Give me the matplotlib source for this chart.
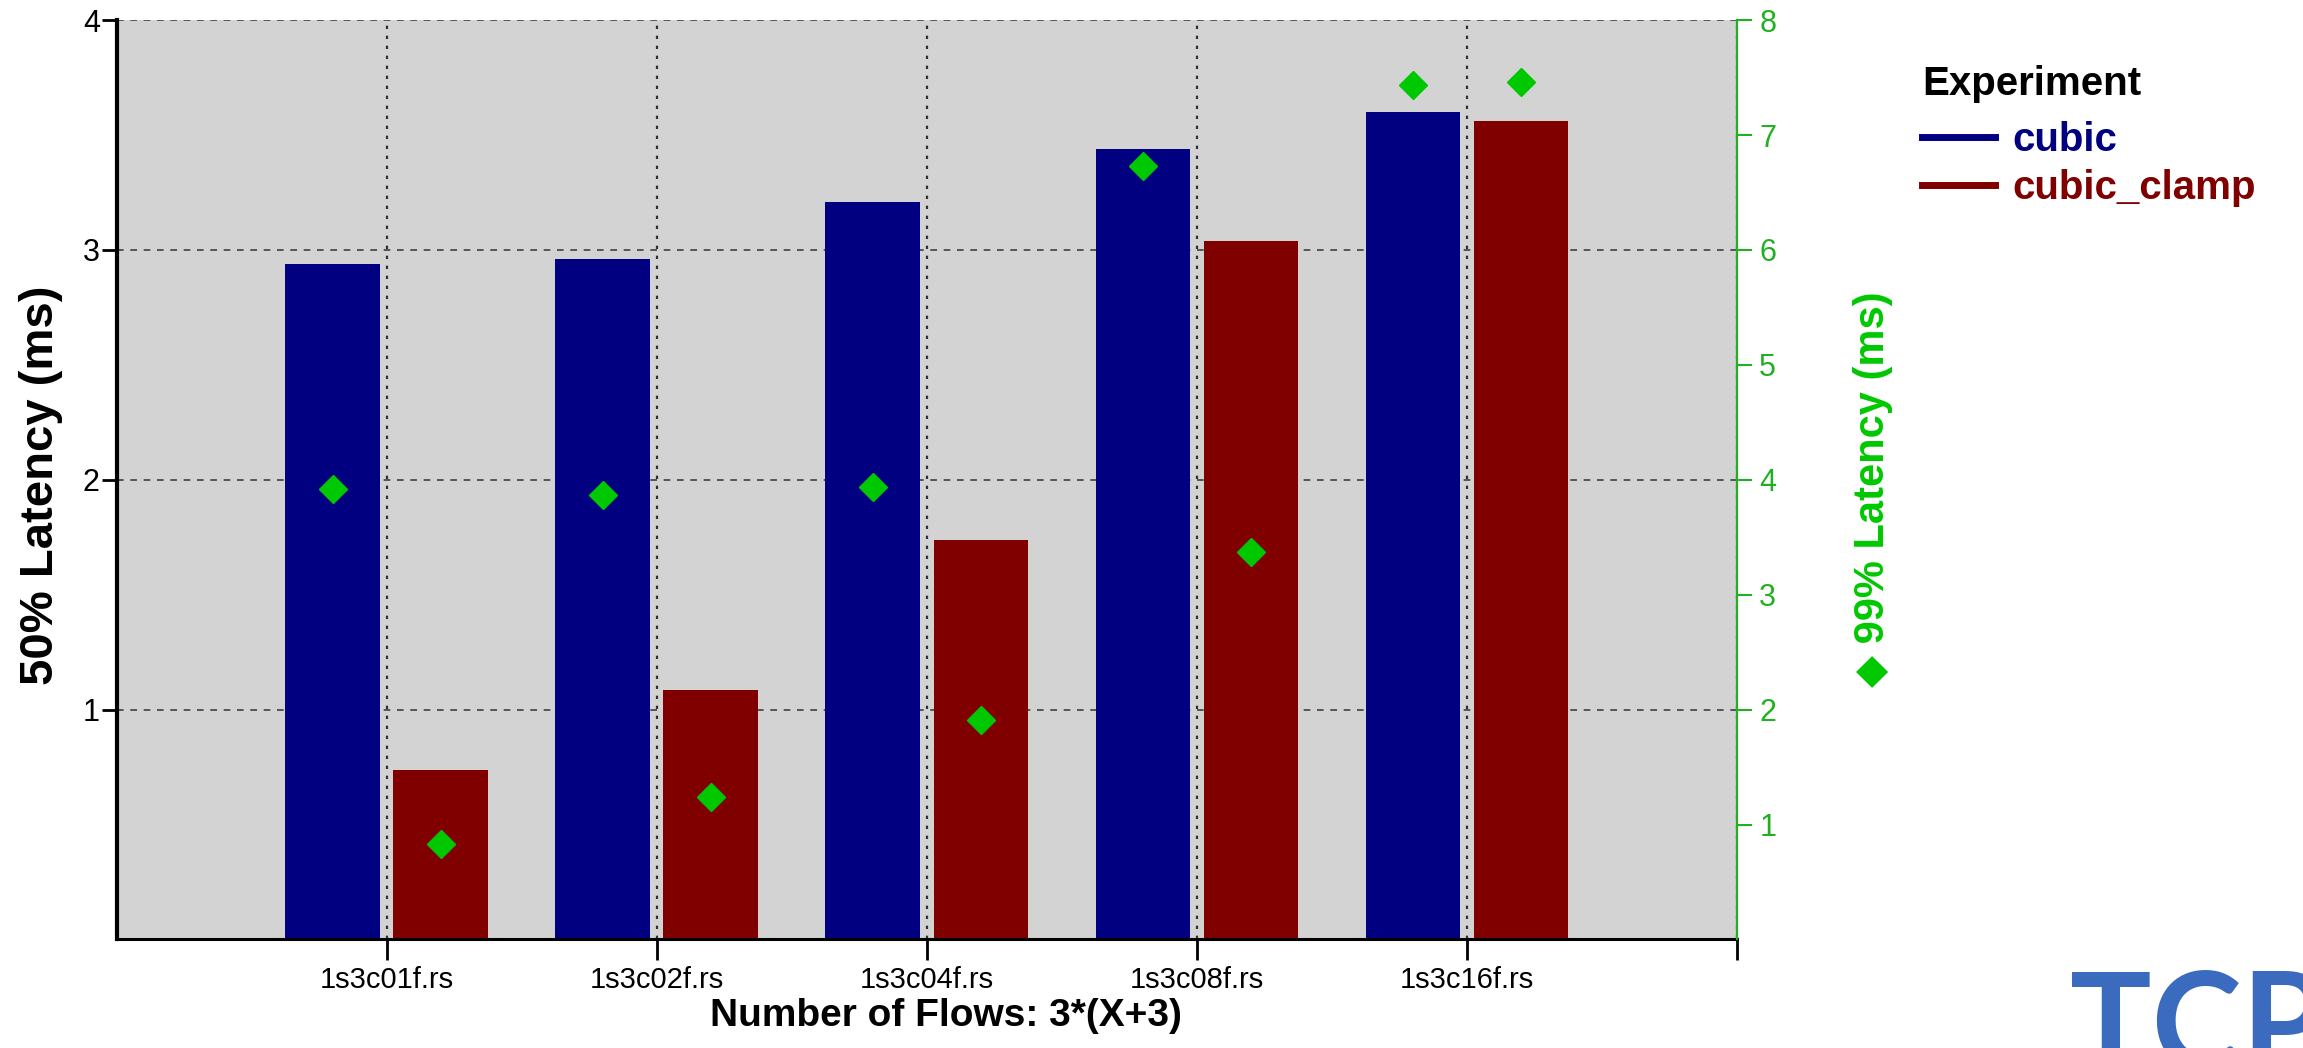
import matplotlib as mpl
mpl.use('Agg')

import matplotlib.pyplot as plt
import numpy as np
from matplotlib.lines import Line2D

plt.rcParams['font.family'] = ['Liberation Sans', 'DejaVu Sans']

# data
runs = ["1s3c01f.rs", "1s3c02f.rs", "1s3c04f.rs", "1s3c08f.rs", "1s3c16f.rs"]
experiments = ["cubic", "cubic_clamp"]
p50_cubic = [2.94, 2.96, 3.21, 3.44, 3.60]
p50_clamp = [0.735, 1.085, 1.74, 3.04, 3.56]
p99_cubic = [3.92, 3.87, 3.94, 6.73, 7.44]
p99_clamp = [0.83, 1.24, 1.91, 3.37, 7.46]

blue = '#000080'
red = '#800000'
green = '#00C800'
axgreen = '#22B022'

W, H = 2303, 1048
fig = plt.figure(figsize=(W / 100, H / 100), dpi=100)
ax = fig.add_axes([116.5 / W, 108.6 / H, 1620.5 / W, 919.2 / H])
ax.set_facecolor('#D3D3D3')

x = np.arange(1, len(runs) + 1)
ax.bar(x - 0.2, p50_cubic, 0.35, color=blue, zorder=2)
ax.bar(x + 0.2, p50_clamp, 0.35, color=red, zorder=2)

ax.set_xlim(0, 6)
ax.set_ylim(0, 4)
ax.set_yticks([1, 2, 3, 4])
ax.set_xticks(list(x) + [6])
ax.set_xticklabels(runs + [''])

# grid: dashed horizontals, dotted verticals
ax.set_axisbelow(True)
ax.yaxis.grid(True, ls=(0, (4, 4)), color='#404040', lw=1.2)
ax.xaxis.grid(True, ls=(0, (1.5, 3)), color='#303030', lw=1.6)

ax.spines['top'].set_visible(False)
ax.spines['right'].set_visible(False)
ax.spines['left'].set_linewidth(3)
ax.spines['bottom'].set_linewidth(2.2)
ax.tick_params(axis='y', length=11, width=2, pad=1, labelsize=22)
ax.tick_params(axis='x', length=15, width=2, pad=4, labelsize=21)

ax.set_ylabel('50% Latency (ms)', fontsize=34, fontweight='bold')
ax.yaxis.set_label_coords(-0.033, 0.494)
ax.set_xlabel('Number of Flows: 3*(X+3)', fontsize=28, fontweight='bold')
ax.xaxis.set_label_coords(0.512, -0.064)

# 99th percentile on the right axis
ax2 = ax.twinx()
ax2.plot(x - 0.2, p99_cubic, 'D', color=green, ms=14, ls='none', zorder=3)
ax2.plot(x + 0.2, p99_clamp, 'D', color=green, ms=14, ls='none', zorder=3)
ax2.set_ylim(0, 8)
ax2.set_yticks(range(1, 9))
for s in ['left', 'top', 'bottom']:
    ax2.spines[s].set_visible(False)
ax2.spines['right'].set_color(axgreen)
ax2.spines['right'].set_linewidth(1.6)
ax2.tick_params(axis='y', colors=axgreen, length=11, width=1.5, pad=5, labelsize=22)
ax2.set_ylabel('\u25C6 99% Latency (ms)', fontsize=30, fontweight='bold', color=green)
ax2.yaxis.set_label_coords(1.0716, 0.49)

# legend: title as its own text, entries below it
fig.text(1922 / W, 1 - 84 / H, 'Experiment', fontsize=29, fontweight='bold',
         ha='left', va='center')
handles = [Line2D([], [], color=blue, lw=5), Line2D([], [], color=red, lw=5)]
fig.legend(handles, experiments, loc='upper left',
           bbox_to_anchor=(1922 / W, 1 - 121 / H), frameon=False,
           prop={'weight': 'bold', 'size': 29},
           labelcolor=[blue, red], handlelength=1.8,
           handletextpad=0.45, labelspacing=0.26, borderpad=0, borderaxespad=0)

fig.text(2070 / W, 1 - 1070 / H, 'TCP', fontsize=98, fontweight='bold',
         color='#3B6BBF', family='Lato', ha='left', va='baseline')

fig.savefig('out.png', dpi=100)
